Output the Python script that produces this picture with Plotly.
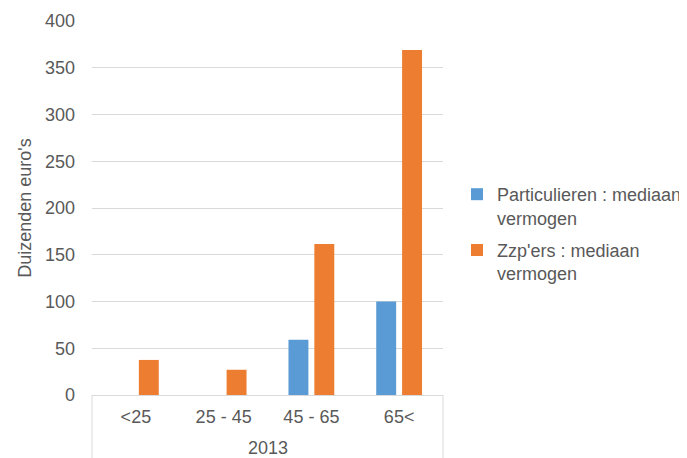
import plotly.graph_objects as go

year_label = "2013"
age_groups = ["<25", "25 - 45", "45 - 65", "65<"]
particulieren = [None, None, 59, 100]
zzpers = [37.5, 27, 161.5, 369]
series_names = ["Particulieren : mediaan<br>vermogen", "Zzp'ers : mediaan<br>vermogen"]
y_ticks = [0, 50, 100, 150, 200, 250, 300, 350, 400]

FONT = "Liberation Sans, Arial, sans-serif"
TXT = "#595959"
GRID = "#D9D9D9"

# the page body adds an 8px offset, so the figure is 8px smaller than the window
W, H = 679, 450
L, R, T, B = 84, 244, 13, 63
plot_h = H - T - B

fig = go.Figure()
fig.add_trace(go.Bar(x=age_groups, y=particulieren, name=series_names[0], legendgroup="a",
                     marker=dict(color="#5B9BD5", line=dict(width=0))))
fig.add_trace(go.Bar(x=age_groups, y=zzpers, name=series_names[1], legendgroup="b",
                     marker=dict(color="#ED7D31", line=dict(width=0))))

fig.update_layout(
    width=W, height=H,
    margin=dict(l=L, r=R, t=T, b=B, autoexpand=False),
    paper_bgcolor="white", plot_bgcolor="white",
    font=dict(family=FONT, size=18, color=TXT),
    barmode="group", bargap=0.41, bargroupgap=0.23,
    showlegend=True,
    legend=dict(xref="container", yref="container", x=449 / W, xanchor="left",
                y=1 - 168 / H, yanchor="top", valign="top",
                traceorder="grouped", tracegroupgap=6,
                font=dict(size=18, color=TXT), bgcolor="rgba(0,0,0,0)"),
    annotations=[dict(text=year_label, xref="paper", yref="paper", x=0.5, y=0,
                      xanchor="center", yanchor="middle", yshift=-53, showarrow=False,
                      font=dict(size=18, color=TXT))],
    shapes=[
        dict(type="line", xref="x domain", yref="paper", x0=0, x1=0, y0=0, y1=-B / plot_h,
             line=dict(color=GRID, width=1)),
        dict(type="line", xref="x domain", yref="paper", x0=1, x1=1, y0=0, y1=-B / plot_h,
             line=dict(color=GRID, width=1)),
    ],
)
fig.update_yaxes(range=[0, 400], tickvals=y_ticks, showgrid=True, gridcolor=GRID,
                 gridwidth=1, zeroline=False, showline=False, ticks="",
                 ticklabelstandoff=16, automargin=False,
                 title=dict(text="Duizenden euro's", font=dict(size=18, color=TXT), standoff=8))
fig.update_xaxes(type="category", showline=True, linecolor=GRID, linewidth=1,
                 ticks="", ticklabelstandoff=5, automargin=False,
                 tickfont=dict(size=18, color=TXT))

fig.write_html("out.html")
